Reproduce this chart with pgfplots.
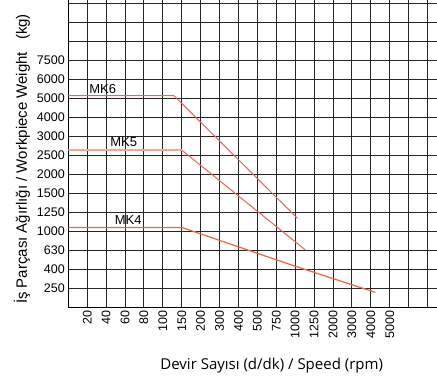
\documentclass[border=0pt]{standalone}
\usepackage{pgfplots}
\pgfplotsset{compat=1.18}
\usepackage{fontspec}
\setmainfont{Liberation Sans}
\newfontfamily\opensans{Open Sans}
\definecolor{lc}{RGB}{240,100,70}
\definecolor{lcfive}{RGB}{246,165,145}
\begin{document}
\begin{tikzpicture}[x=1pt,y=1pt]
\useasboundingbox (0,0) rectangle (437,378);
\begin{axis}[at={(68.3pt,71pt)}, anchor=south west, scale only axis,
  width=368.7pt, height=307pt,
  xmin=0, xmax=19.5, ymin=0, ymax=16.16,
  axis lines=left, axis line style={-, black, line width=1pt},
  xtick={0,...,19}, ytick={0,...,16},
  xticklabels={,20,40,60,80,100,150,200,300,400,500,750,1000,1250,2000,3000,4000,5000,,},
  yticklabels={,250,400,630,1000,1250,1500,2000,2500,3000,4000,5000,6000,7500,,,},
  major tick length=0pt,
  grid=major, major grid style={black!85, line width=0.9pt},
  x tick label style={rotate=90, anchor=east, font=\fontsize{12.5}{12.5}\selectfont},
  y tick label style={anchor=east, font=\fontsize{12.5}{12.5}\selectfont},
  clip=true,
]
\addplot[lc, line width=1pt] coordinates {(0,11.12) (5.59,11.12) (12.12,4.67)};
\addplot[lcfive, line width=2.2pt] coordinates {(0,8.26) (6.0,8.26)};
\addplot[lc, line width=1pt] coordinates {(6.0,8.26) (12.54,3.0)};
\addplot[lc, line width=1.2pt] coordinates {(0,4.19) (6.0,4.19) (11.96,2.16) (16.24,0.77)};
\node[font=\fontsize{13}{13}\selectfont] at (axis cs:1.82,11.47) {MK6};
\node[font=\fontsize{13}{13}\selectfont] at (axis cs:2.93,8.7) {MK5};
\node[font=\fontsize{13}{13}\selectfont] at (axis cs:3.17,4.58) {MK4};
\end{axis}
\node[rotate=90, font=\fontsize{15}{15}\selectfont] at (22,219) {İş Parçası Ağırlığı / Workpiece Weight\hspace{12pt}(kg)};
\node[font=\opensans\fontsize{15}{15}\selectfont] at (271.7,12.5) {Devir Sayısı (d/dk) / Speed (rpm)};
\end{tikzpicture}
\end{document}
